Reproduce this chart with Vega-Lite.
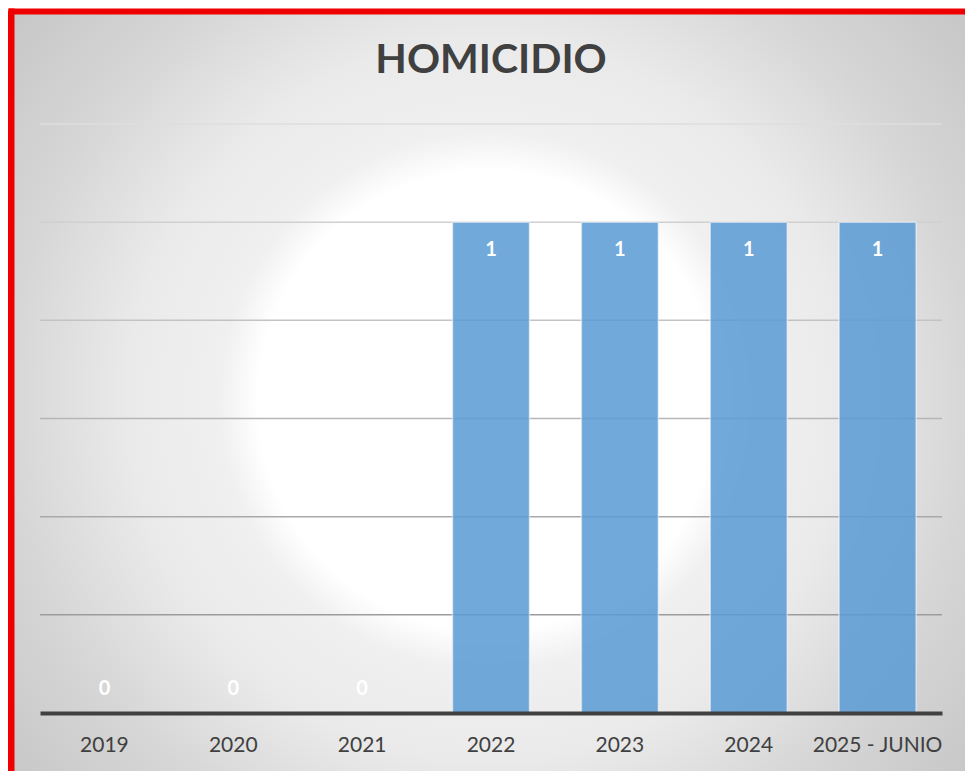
{
  "$schema": "https://vega.github.io/schema/vega-lite/v6.json",
  "width": 954,
  "height": 760,
  "autosize": {"type": "none"},
  "padding": {"left": 11, "top": 11, "right": 0, "bottom": 0},
  "background": "#ffffff",
  "config": {
    "view": {"stroke": null},
    "font": "Lato"
  },
  "title": {
    "text": "HOMICIDIO",
    "font": "Lato",
    "fontSize": 41,
    "fontWeight": "bold",
    "color": "#404040",
    "anchor": "middle",
    "frame": "group",
    "baseline": "middle",
    "offset": -94,
    "dx": 3
  },
  "datasets": {
    "counts": [
      {"year": "2019", "value": 0},
      {"year": "2020", "value": 0},
      {"year": "2021", "value": 0},
      {"year": "2022", "value": 1},
      {"year": "2023", "value": 1},
      {"year": "2024", "value": 1},
      {"year": "2025 - JUNIO", "value": 1}
    ],
    "grid": [
      {"v": 0.2}, {"v": 0.4}, {"v": 0.6}, {"v": 0.8}, {"v": 1.0}, {"v": 1.2}
    ]
  },
  "layer": [
    {
      "encoding": {
        "x": {
          "field": "year",
          "type": "nominal",
          "sort": null,
          "scale": {
            "domain": ["2019", "2020", "2021", "2022", "2023", "2024", "2025 - JUNIO"],
            "range": [29, 931],
            "paddingInner": 0.4024,
            "paddingOuter": 0.2012
          },
          "axis": {
            "title": null,
            "orient": "bottom",
            "offset": -58,
            "labelAngle": 0,
            "labelFont": "Lato",
            "labelFontSize": 21,
            "labelColor": "#404040",
            "labelBaseline": "middle",
            "labelPadding": 32,
            "ticks": false,
            "tickSize": 0,
            "grid": false,
            "domainColor": "#404040",
            "domainWidth": 4,
            "zindex": 2
          }
        },
        "y": {
          "field": "value",
          "type": "quantitative",
          "scale": {"domain": [-0.11817, 1.43022], "nice": false, "zero": false},
          "axis": {
            "title": null,
            "orient": "left",
            "labels": false,
            "ticks": false,
            "grid": false,
            "domainColor": "#ee0000",
            "domainWidth": 6,
            "domainCap": "square",
            "zindex": 3
          }
        }
      },
      "layer": [
        {
          "data": {"values": [{"bg": 1}]},
          "mark": {
            "type": "rect",
            "fill": {
              "gradient": "radial",
              "x1": 0.5, "y1": 0.51, "r1": 0,
              "x2": 0.5, "y2": 0.51, "r2": 0.67,
              "stops": [
                {"offset": 0, "color": "#ffffff"},
                {"offset": 0.36, "color": "#ffffff"},
                {"offset": 0.42, "color": "#f0f0f0"},
                {"offset": 0.5625, "color": "#eaeaea"},
                {"offset": 0.753, "color": "#d6d6d6"},
                {"offset": 1, "color": "#c4c4c4"}
              ]
            }
          },
          "encoding": {"x": null, "y": null}
        },
        {
          "data": {"name": "grid"},
          "mark": {"type": "rule", "strokeWidth": 1.5},
          "encoding": {
            "x": {"datum": "2019", "bandPosition": -0.3367},
            "x2": {"datum": "2025 - JUNIO", "bandPosition": 1.3367},
            "y": {"field": "v", "type": "quantitative"},
            "stroke": {
              "field": "v",
              "type": "quantitative",
              "scale": {"domain": [0.2, 1.2], "range": ["#9c9c9c", "#dedede"]},
              "legend": null
            }
          }
        },
        {
          "data": {"name": "counts"},
          "mark": {
            "type": "bar",
            "fill": "#5B9BD5",
            "fillOpacity": 0.86,
            "stroke": "#ffffff",
            "strokeOpacity": 0.5,
            "strokeWidth": 1.5
          }
        },
        {
          "data": {"name": "counts"},
          "transform": [{"filter": "datum.value > 0"}],
          "mark": {
            "type": "text",
            "font": "Lato",
            "fontSize": 20,
            "fontWeight": "bold",
            "color": "#ffffff",
            "baseline": "middle",
            "dy": 28
          },
          "encoding": {"text": {"field": "value", "type": "quantitative"}}
        },
        {
          "data": {"name": "counts"},
          "transform": [{"filter": "datum.value == 0"}],
          "mark": {
            "type": "text",
            "font": "Lato",
            "fontSize": 20,
            "fontWeight": "bold",
            "color": "#ffffff",
            "baseline": "middle",
            "dy": -24
          },
          "encoding": {"text": {"field": "value", "type": "quantitative"}}
        }
      ]
    },
    {
      "data": {"values": [{"edge": 0}]},
      "mark": {"type": "rule", "color": "#ee0000", "strokeWidth": 6},
      "encoding": {
        "x": {
          "field": "edge",
          "type": "quantitative",
          "scale": {"domain": [0, 1], "nice": false, "zero": false},
          "axis": {
            "title": null,
            "orient": "top",
            "labels": false,
            "ticks": false,
            "grid": false,
            "domainColor": "#ee0000",
            "domainWidth": 6,
            "domainCap": "square",
            "zindex": 3
          }
        }
      }
    }
  ],
  "resolve": {"scale": {"x": "independent"}, "axis": {"x": "independent"}}
}
